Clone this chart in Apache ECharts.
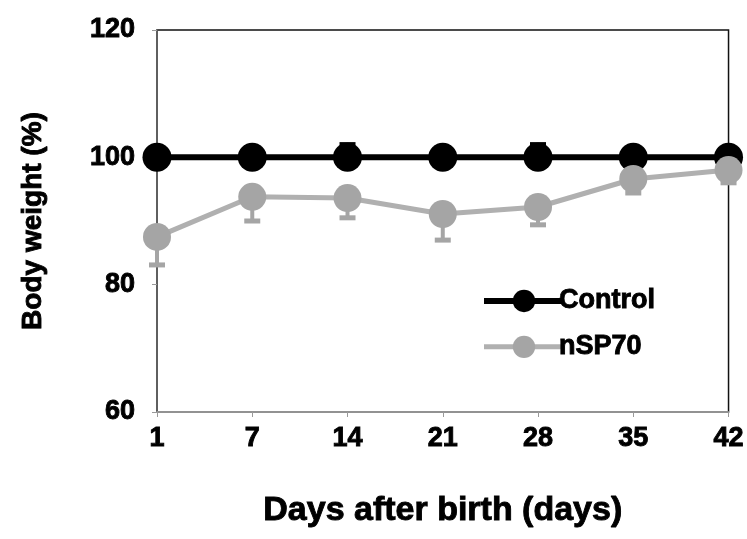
<!DOCTYPE html>
<html><head><meta charset="utf-8">
<script src="https://cdn.jsdelivr.net/npm/echarts@6/dist/echarts.min.js"></script>
<style>html,body{margin:0;padding:0;background:#fff}#c{width:747px;height:539px}</style>
</head><body><div id="c"></div>
<script>
const categories = ['1','7','14','21','28','35','42'];
const controlValues = [100, 100, 100, 100, 100, 100, 100];
const controlErr = [0.5, 1.5, 2, 1.5, 2, 0.5, 0.5];
const nspValues = [87.5, 93.8, 93.6, 91.1, 92.2, 96.6, 98.0];
const nspErr = [4.4, 3.8, 3.1, 4.1, 2.8, 2.2, 2.0];
const yTicks = [60, 80, 100, 120];

const FONT = '"Liberation Sans", Arial, sans-serif';
const heavy = (size) => ({fontFamily: FONT, fontWeight: 'bold', fontSize: size, color: '#000', textBorderColor: '#000', textBorderWidth: 0.9});
const chart = echarts.init(document.getElementById('c'), null, {renderer:'canvas'});

function errSeries(name, vals, errs, dir, color, z) {
  return {
    type: 'custom', name: name + ' err', z: z, silent: true,
    data: vals.map((v, i) => [i, v, v + dir * errs[i]]),
    renderItem: function (params, api) {
      const p0 = api.coord([api.value(0), api.value(1)]);
      const p1 = api.coord([api.value(0), api.value(2)]);
      const w = 8;
      return {
        type: 'group',
        children: [
          {type:'line', shape:{x1:p0[0], y1:p0[1], x2:p1[0], y2:p1[1]}, style:{stroke:color, lineWidth:4}},
          {type:'line', shape:{x1:p1[0]-w, y1:p1[1], x2:p1[0]+w, y2:p1[1]}, style:{stroke:color, lineWidth:5}}
        ]
      };
    }
  };
}

chart.setOption({
  animation: false,
  backgroundColor: '#fff',
  grid: {left: 157, right: 14, top: 30, bottom: 127, show: true, borderColor: '#111', borderWidth: 1.5, backgroundColor: 'transparent'},
  xAxis: {
    type: 'category', data: categories, boundaryGap: false,
    name: 'Days after birth (days)', nameLocation: 'middle', nameGap: 82,
    nameTextStyle: heavy(34),
    axisLine: {lineStyle: {color: '#aaa', width: 1.5}},
    axisTick: {show: true, alignWithLabel: true, length: 5, lineStyle: {color: '#999'}},
    axisLabel: Object.assign(heavy(27), {margin: 13}),
    splitLine: {show: false}
  },
  yAxis: {
    type: 'value', min: yTicks[0], max: yTicks[yTicks.length-1], interval: 20,
    name: 'Body weight (%)', nameLocation: 'middle', nameGap: 110, nameRotate: 90,
    nameTextStyle: heavy(28),
    axisLine: {show: true, lineStyle: {color: '#666', width: 1.5}},
    axisTick: {show: true, length: 5, lineStyle: {color: '#999'}},
    axisLabel: Object.assign(heavy(27), {margin: 22}),
    splitLine: {show: false}
  },
  legend: {
    show: true, orient: 'vertical', left: 476, top: 282, itemGap: 18,
    itemWidth: 80, itemHeight: 28,
    data: [
      {name: 'Control', lineStyle: {width: 6, color: '#000'}},
      {name: 'nSP70', lineStyle: {width: 5, color: '#b0b0b0'}}
    ],
    textStyle: Object.assign(heavy(27), {padding: [0,0,0,-10]})
  },
  series: [
    errSeries('Control', controlValues, controlErr, 1, '#000', 1),
    {
      name: 'Control', type: 'line', data: controlValues, z: 2,
      symbol: 'circle', symbolSize: 29, clip: false,
      lineStyle: {color: '#000', width: 6}, itemStyle: {color: '#000'}
    },
    errSeries('nSP70', nspValues, nspErr, -1, '#a5a5a5', 3),
    {
      name: 'nSP70', type: 'line', data: nspValues, z: 4,
      symbol: 'circle', symbolSize: 28, clip: false,
      lineStyle: {color: '#b0b0b0', width: 5}, itemStyle: {color: '#a5a5a5'}
    }
  ]
});
</script></body></html>
